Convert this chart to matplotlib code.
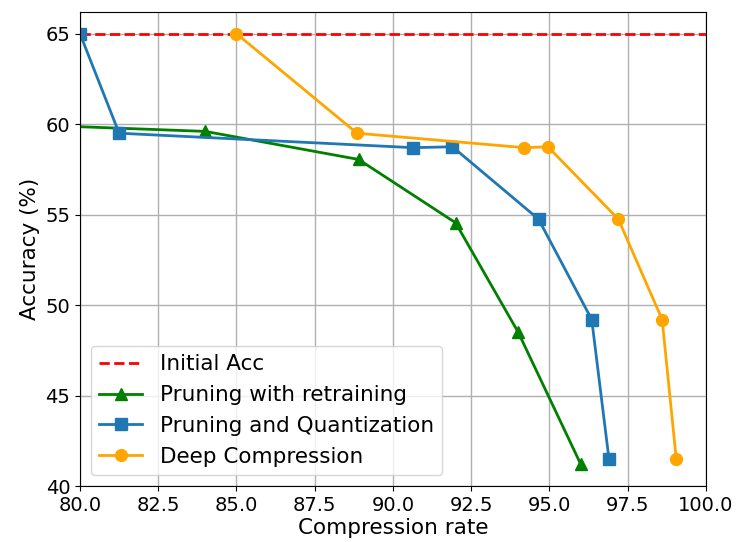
import matplotlib
matplotlib.use("Agg")
import matplotlib.pyplot as plt

# data
initial_acc = 65.0
prune_x = [0.0, 84.0, 88.9, 92.0, 94.0, 96.0]
prune_y = [65.0, 59.6, 58.05, 54.55, 48.5, 41.2]
pq_x = [80.0, 81.25, 90.65, 91.9, 94.65, 96.35, 96.9]
pq_y = [65.0, 59.5, 58.7, 58.75, 54.75, 49.2, 41.5]
dc_x = [85.0, 88.85, 94.2, 94.95, 97.2, 98.6, 99.05]
dc_y = [65.0, 59.5, 58.7, 58.75, 54.75, 49.2, 41.5]

fig = plt.figure(figsize=(7.38, 5.42), dpi=100)
ax = fig.add_axes([0.1084, 0.1033, 0.8482, 0.8746])

ax.axhline(initial_acc, color="red", linestyle="--", linewidth=2, label="Initial Acc")
ax.plot(prune_x, prune_y, color="green", marker="^", markersize=8, linewidth=2,
        label="Pruning with retraining")
ax.plot(pq_x, pq_y, color="tab:blue", marker="s", markersize=8, linewidth=2,
        label="Pruning and Quantization")
ax.plot(dc_x, dc_y, color="orange", marker="o", markersize=8.5, linewidth=2,
        label="Deep Compression")

ax.set_xlim(80, 100)
ax.set_ylim(40, 66.2)
ax.set_xticks([80, 82.5, 85, 87.5, 90, 92.5, 95, 97.5, 100])
ax.set_xticklabels(["80.0", "82.5", "85.0", "87.5", "90.0", "92.5", "95.0", "97.5", "100.0"])
ax.set_yticks([40, 45, 50, 55, 60, 65])
ax.tick_params(labelsize=14)
ax.grid(True, color="#b0b0b0", linewidth=1)
ax.set_xlabel("Compression rate", fontsize=15.5, labelpad=2)
ax.set_ylabel("Accuracy (%)", fontsize=15.5)
ax.legend(loc="lower left", fontsize=15.5)

fig.savefig("out.png", dpi=100)
